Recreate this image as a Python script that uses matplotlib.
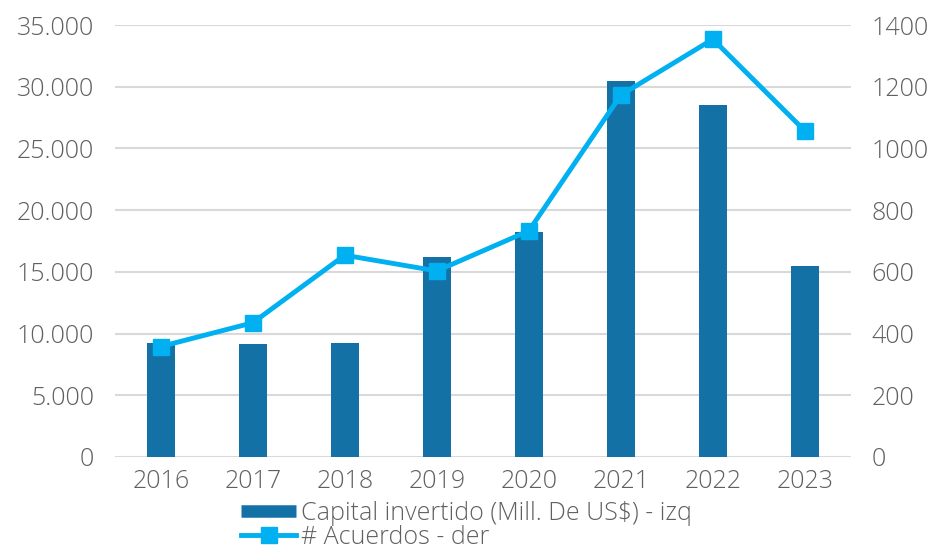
import matplotlib
matplotlib.use("Agg")
import matplotlib.pyplot as plt
from matplotlib.lines import Line2D

years = ["2016", "2017", "2018", "2019", "2020", "2021", "2022", "2023"]
capital = [9260, 9180, 9260, 16230, 18230, 30470, 28500, 15480]
acuerdos = [358, 435, 654, 603, 733, 1173, 1354, 1057]
left_ticks = [0, 5000, 10000, 15000, 20000, 25000, 30000, 35000]
left_labels = ["0", "5.000", "10.000", "15.000", "20.000", "25.000", "30.000", "35.000"]
right_ticks = [0, 200, 400, 600, 800, 1000, 1200, 1400]
right_labels = ["0", "200", "400", "600", "800", "1000", "1200", "1400"]
bar_label = "Capital invertido (Mill. De US$) - izq"
line_label = "# Acuerdos - der"

BAR_C = "#1471A6"
LINE_C = "#00B0F0"
TXT_C = "#606060"
GRID_C = "#D9D9D9"
FS = 18

plt.rcParams["font.family"] = ["Open Sans", "DejaVu Sans"]
plt.rcParams["font.weight"] = "light"

fig = plt.figure(figsize=(9.33, 5.51), dpi=100)
ax = fig.add_axes([0.123, 0.1706, 0.789, 0.784])
x = list(range(len(years)))
ax.bar(x, capital, width=0.31, color=BAR_C, zorder=2)
ax.set_ylim(0, 35000)
ax.set_xlim(-0.5, len(years) - 0.5)
ax.set_yticks(left_ticks)
ax.set_yticklabels(left_labels)
ax.set_xticks(x)
ax.set_xticklabels(years)
ax.grid(axis="y", color=GRID_C, linewidth=1.5, zorder=0)
ax.set_axisbelow(True)
for s in ax.spines.values():
    s.set_visible(False)
ax.tick_params(length=0, labelsize=FS, colors=TXT_C, pad=15)
ax.tick_params(axis="x", pad=9)

ax2 = ax.twinx()
ax2.plot(x, acuerdos, color=LINE_C, linewidth=3.5, marker="s", markersize=11, zorder=3)
ax2.set_ylim(0, 1400)
ax2.set_yticks(right_ticks)
ax2.set_yticklabels(right_labels)
for s in ax2.spines.values():
    s.set_visible(False)
ax2.tick_params(length=0, labelsize=FS, colors=TXT_C, pad=15)

handles = [Line2D([0], [0], color=BAR_C, linewidth=9, solid_capstyle="butt", label=bar_label),
           Line2D([0], [0], color=LINE_C, linewidth=3.5, marker="s", markersize=11, label=line_label)]
fig.legend(handles=handles, loc="lower center", bbox_to_anchor=(0.5, -0.02), ncol=1, frameon=False,
           fontsize=FS, labelcolor=TXT_C, handlelength=2.2, handletextpad=0.2, labelspacing=-0.05,
           borderaxespad=0.1)

fig.savefig("out.png", dpi=100)
